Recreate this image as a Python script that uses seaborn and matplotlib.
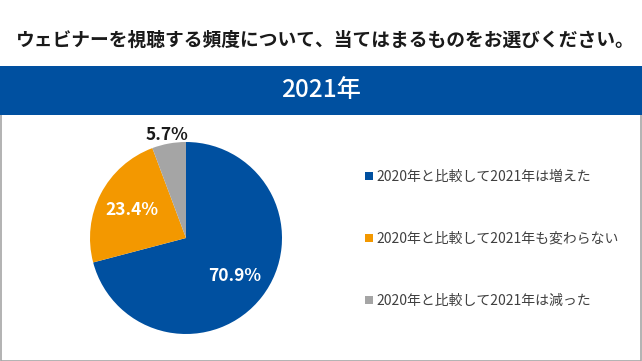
import matplotlib
matplotlib.use('Agg')

import matplotlib.pyplot as plt
from matplotlib.patches import Rectangle
import seaborn as sns

# data
labels = ['2020年と比較して2021年は増えた',
          '2020年と比較して2021年も変わらない',
          '2020年と比較して2021年は減った']
values = [70.9, 23.4, 5.7]
colors = ['#0050A0', '#F39800', '#A5A5A5']
title = 'ウェビナーを視聴する頻度について、当てはまるものをお選びください。'
year_label = '2021年'

sns.set_theme(style="white")
plt.rcParams['font.family'] = ['Noto Sans CJK JP', 'DejaVu Sans']

W, H = 642, 361
fig = plt.figure(figsize=(W / 100, H / 100), dpi=100)
fig.patch.set_facecolor('white')

# outer panel + blue band (behind the axes)
fig.patches.append(Rectangle((0.5 / W, 0.5 / H), (W - 1.5) / W, (H - 115) / H,
                             transform=fig.transFigure, facecolor='white',
                             edgecolor='#A6A6A6', linewidth=1.2, zorder=-2))
fig.patches.append(Rectangle((0, (H - 115) / H), 1, 49 / H,
                             transform=fig.transFigure, facecolor='#0050A0',
                             edgecolor='none', zorder=-1))

fig.text(0.507, 1 - 40 / H, title, ha='center', va='center', fontsize=13.5,
         fontweight='bold', color='#1A1A1A')
fig.text(0.5, 1 - 90 / H, year_label, ha='center', va='center', fontsize=17.5,
         fontweight='medium', color='white')

# pie
cx, cy, r = 186, 238, 96
ax = fig.add_axes([(cx - r) / W, (H - cy - r) / H, 2 * r / W, 2 * r / H])
wedges, texts, autotexts = ax.pie(values, colors=colors, startangle=90,
                                  counterclock=False, radius=1,
                                  autopct='%.1f%%', pctdistance=0.64,
                                  wedgeprops=dict(linewidth=0))
for t in autotexts:
    t.set_color('white')
    t.set_fontsize(12.5)
    t.set_fontweight('bold')
# small slice label goes outside
x, y = autotexts[2].get_position()
autotexts[2].set_position((x * 1.7, y * 1.7))
autotexts[2].set_color('#1A1A1A')
ax.set_xlim(-1, 1)
ax.set_ylim(-1, 1)
ax.set_aspect('equal')
ax.axis('off')

leg = fig.legend(wedges, labels, loc='upper left',
                 bbox_to_anchor=(358 / W, 1 - 163 / H), frameon=False,
                 fontsize=10, labelspacing=3.45, handlelength=0.55,
                 handleheight=0.55, handletextpad=0.3, borderpad=0)
for t in leg.get_texts():
    t.set_color('#404040')

fig.savefig('out.png', dpi=100)
